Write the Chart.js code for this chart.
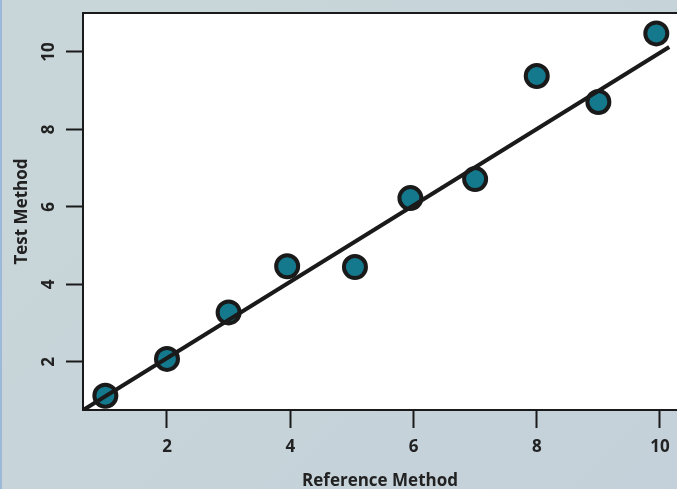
<!DOCTYPE html>
<html>
<head>
<meta charset="utf-8">
<script src="https://cdn.jsdelivr.net/npm/chart.js@4"></script>
<style>
  html, body { margin: 0; padding: 0; }
  body {
    width: 677px; height: 489px; overflow: hidden;
    background: linear-gradient(135deg, #c9d6d9 0%, #c6d3d9 60%, #c4d1da 100%);
  }
  #chart { position: absolute; left: 0; top: 0; }
  #edge { position: absolute; left: 0; top: 0; width: 2px; height: 489px; background: #9db9d9; }
</style>
</head>
<body>
<canvas id="chart" width="677" height="489"></canvas>
<div id="edge"></div>
<script>
// reference vs test values
const referenceValues = [1.0, 2.0, 3.0, 3.95, 5.05, 5.95, 7.0, 8.0, 9.0, 9.94];
const testValues = [1.13, 2.08, 3.28, 4.47, 4.45, 6.23, 6.72, 9.38, 8.71, 10.48];
// fitted line end points
const fitX = [0.6, 10.15];
const fitY = [0.72, 10.13];
const xTicks = [2, 4, 6, 8, 10];
const yTicks = [2, 4, 6, 8, 10];

const plotFrame = {
    id: 'plotFrame',
    beforeDraw: function (chart) {
        const a = chart.chartArea;
        const ctx = chart.ctx;
        ctx.save();
        ctx.fillStyle = '#ffffff';
        ctx.fillRect(a.left, a.top, a.right - a.left, a.bottom - a.top);
        ctx.restore();
    },
    afterDraw: function (chart) {
        const a = chart.chartArea;
        const ctx = chart.ctx;
        ctx.save();
        ctx.strokeStyle = '#1a1a1a';
        ctx.lineWidth = 2;
        ctx.beginPath();
        ctx.moveTo(a.left, a.top);
        ctx.lineTo(a.right, a.top);
        ctx.stroke();
        ctx.restore();
    }
};

const font = { family: '"Open Sans", "Noto Sans", sans-serif', weight: 'bold', size: 17 };

new Chart(document.getElementById('chart'), {
    type: 'scatter',
    data: {
        datasets: [{
            type: 'line',
            data: fitX.map((x, i) => ({ x: x, y: fitY[i] })),
            borderColor: '#1a1a1a',
            borderWidth: 4,
            pointRadius: 0,
            fill: false,
            clip: 0
        }, {
            data: referenceValues.map((x, i) => ({ x: x, y: testValues[i] })),
            backgroundColor: '#15798d',
            borderColor: '#1a1a1a',
            borderWidth: 4,
            pointRadius: 11,
            pointHoverRadius: 11
        }]
    },
    options: {
        responsive: false,
        animation: false,
        layout: { autoPadding: false, padding: { top: 13, right: 0, left: 0, bottom: 0 } },
        plugins: { legend: { display: false }, tooltip: { enabled: false } },
        scales: {
            x: {
                type: 'linear',
                min: 0.637,
                max: 10.276,
                afterBuildTicks: function (s) { s.ticks = xTicks.map(v => ({ value: v })); },
                afterFit: function (s) { s.height = 79; s.paddingLeft = 0; s.paddingRight = 0; },
                grid: { drawOnChartArea: false, drawTicks: true, tickLength: 18, tickColor: '#1a1a1a', tickWidth: 2 },
                border: { display: true, color: '#1a1a1a', width: 2 },
                ticks: { color: '#222', font: font, padding: 9, maxRotation: 0 },
                title: { display: true, text: 'Reference Method', color: '#222', font: font, padding: { top: 0, bottom: -2 } }
            },
            y: {
                type: 'linear',
                min: 0.761,
                max: 11.006,
                afterBuildTicks: function (s) { s.ticks = yTicks.map(v => ({ value: v })); },
                afterFit: function (s) { s.width = 83; s.paddingTop = 0; s.paddingBottom = 0; },
                grid: { drawOnChartArea: false, drawTicks: true, tickLength: 17, tickColor: '#1a1a1a', tickWidth: 2 },
                border: { display: true, color: '#1a1a1a', width: 2 },
                ticks: { color: '#222', font: font, padding: 7, minRotation: 90, maxRotation: 90, crossAlign: 'center' },
                title: { display: true, text: 'Test Method', color: '#222', font: font, padding: { bottom: 0, top: 12 } }
            }
        }
    },
    plugins: [plotFrame]
});
</script>
</body>
</html>
